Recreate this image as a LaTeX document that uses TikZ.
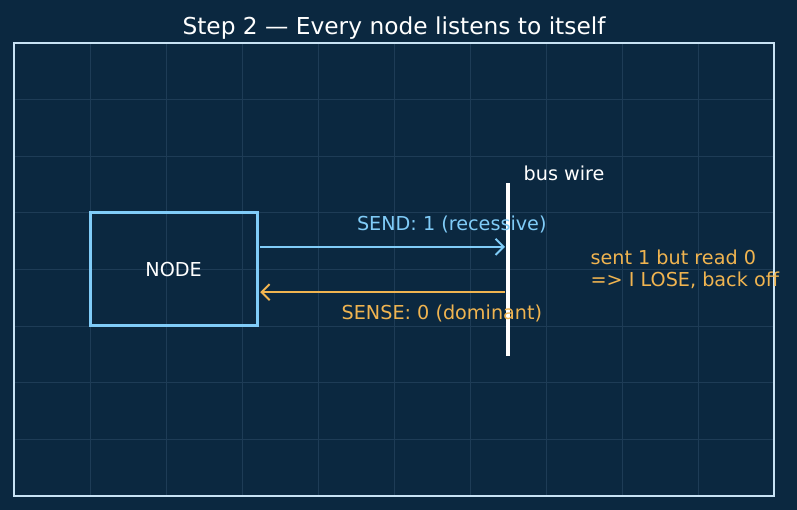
\documentclass[tikz,border=0pt]{standalone}
\usepackage{fontspec}
\setmainfont{DejaVu Sans}
\usetikzlibrary{arrows.meta}
\definecolor{bg}{HTML}{0B2840}
\definecolor{gridc}{HTML}{1E3C56}
\definecolor{framec}{HTML}{C8E2F4}
\definecolor{skyc}{HTML}{80CCF8}
\definecolor{ambc}{HTML}{F0B450}
\tikzset{
  nodebox/.style={draw=skyc, line width=3pt, minimum width=167pt, minimum height=113pt, text=white},
  lbl/.style={font=\fontsize{19.2}{22.5}\selectfont},
  sendline/.style={skyc, line width=2pt, -{Straight Barb[length=8pt,width=16pt,line width=2pt]}},
  senseline/.style={ambc, line width=2pt, -{Straight Barb[length=8pt,width=16pt,line width=2pt]}}
}
\begin{document}
\begin{tikzpicture}[x=76pt, y=56.625pt]
\fill[bg] (-0.1842,-0.2472) rectangle (10.3026,8.7594);
\useasboundingbox (-0.1842,-0.2472) rectangle (10.3026,8.7594);
% grid
\foreach \i in {1,...,9} \draw[gridc, line width=0.9pt] (\i,0) -- (\i,8);
\foreach \j in {1,...,7} \draw[gridc, line width=0.9pt] (0,\j) -- (10,\j);
\draw[framec, line width=2pt] (0,0) rectangle (10,8);
\node[lbl, text=white, font=\fontsize{23.3}{28}\selectfont] (title) at (5,8.26) {Step 2 — Every node listens to itself};
% station and bus
\node[nodebox, lbl] (nd) at (2.1,4) {NODE};
\coordinate (busB) at (6.5,2.47);
\coordinate (busT) at (6.5,5.53);
\draw[white, line width=3.5pt] (busB) -- (busT);
\node[lbl, text=white, anchor=west] (buslbl) at (6.66,5.7) {bus wire};
% signals
\coordinate (sendA) at (3.2,4.4);
\coordinate (senseA) at (3.2,3.6);
\draw[sendline] ([xshift=3pt]sendA) -- (busB |- sendA) [shorten >=3pt];
\node[lbl, text=skyc] (sendlbl) at (5.76,4.79) {SEND: 1 (recessive)};
\draw[senseline] ([xshift=-3pt]busB |- senseA) -- ([xshift=3pt]senseA);
\node[lbl, text=ambc] (senselbl) at (5.63,3.23) {SENSE: 0 (dominant)};
\node[lbl, text=ambc, anchor=west, align=left] (verdict) at (7.54,4.0) {sent 1 but read 0\\=> I LOSE, back off};
\end{tikzpicture}
\end{document}
